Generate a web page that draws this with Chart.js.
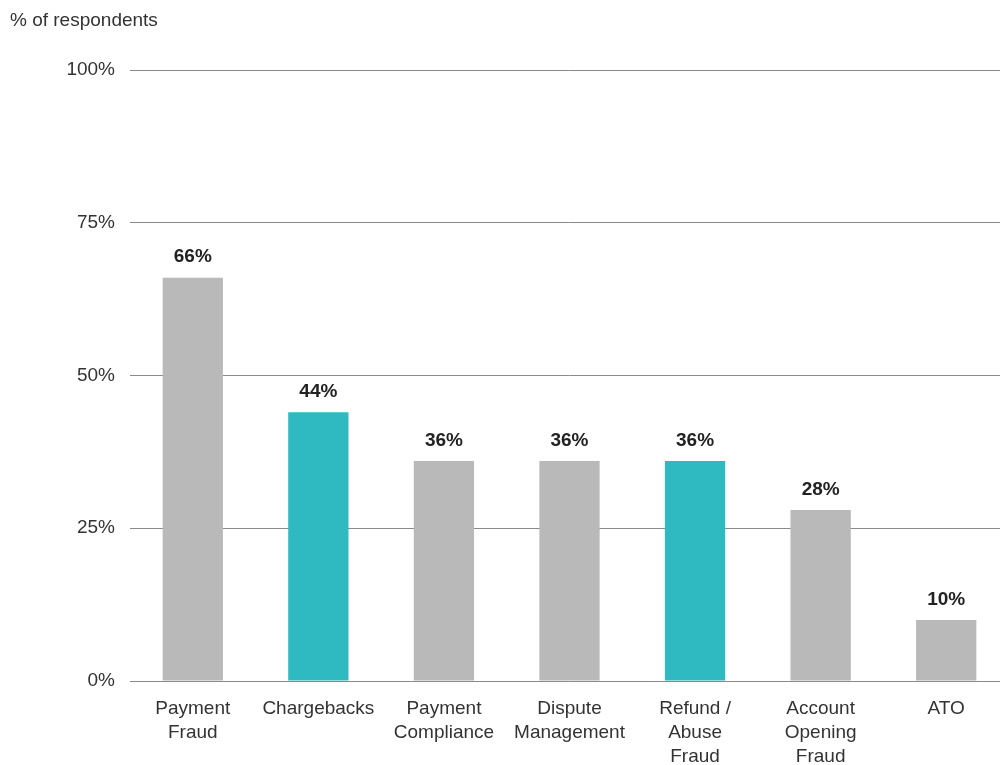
<!DOCTYPE html>
<html>
<head>
<meta charset="utf-8">
<script src="https://cdn.jsdelivr.net/npm/chart.js@4"></script>
<style>
  html, body { margin: 0; padding: 0; background: #fff; overflow: hidden; }
  #wrap { width: 1009px; height: 765px; position: relative; }
</style>
</head>
<body>
<div id="wrap"><canvas id="chart"></canvas></div>
<script>
const categories = [
  ['Payment', 'Fraud'],
  'Chargebacks',
  ['Payment', 'Compliance'],
  ['Dispute', 'Management'],
  ['Refund /', 'Abuse', 'Fraud'],
  ['Account', 'Opening', 'Fraud'],
  'ATO'
];
const shares = [66, 44, 36, 36, 36, 28, 10];
const highlighted = [false, true, false, false, true, false, false];
const yTicks = [0, 25, 50, 75, 100];

const FONT = '"Liberation Sans", Arial, Helvetica, sans-serif';

// headline above the plot
const axisCaption = {
  id: 'axisCaption',
  afterDraw(chart) {
    const ctx = chart.ctx;
    ctx.save();
    ctx.font = '19px ' + FONT;
    ctx.fillStyle = '#333';
    ctx.textAlign = 'left';
    ctx.textBaseline = 'middle';
    ctx.fillText('% of respondents', 10, 21);
    ctx.restore();
  }
};

// bold value on top of each bar
const barValues = {
  id: 'barValues',
  afterDatasetsDraw(chart) {
    const ctx = chart.ctx;
    const meta = chart.getDatasetMeta(0);
    ctx.save();
    ctx.font = 'bold 19px ' + FONT;
    ctx.fillStyle = '#222';
    ctx.textAlign = 'center';
    ctx.textBaseline = 'bottom';
    meta.data.forEach((bar, i) => {
      ctx.fillText(shares[i] + '%', bar.x, bar.y - 11);
    });
    ctx.restore();
  }
};

new Chart(document.getElementById('chart'), {
  type: 'bar',
  data: {
    labels: categories,
    datasets: [{
      data: shares,
      backgroundColor: highlighted.map(h => h ? '#2fb9c1' : '#b9b9b9'),
      borderWidth: 0,
      categoryPercentage: 1,
      barPercentage: 0.48
    }]
  },
  options: {
    responsive: true,
    maintainAspectRatio: false,
    animation: false,
    layout: { padding: { top: 70, right: 0, bottom: 0, left: 0 } },
    plugins: {
      legend: { display: false },
      tooltip: { enabled: false }
    },
    scales: {
      x: {
        grid: { display: false },
        border: { display: false },
        ticks: {
          color: '#333',
          padding: 8,
          maxRotation: 0,
          autoSkip: false,
          font: { family: FONT, size: 19, lineHeight: 24 / 19 }
        },
        afterFit(scale) { scale.height = 84; }
      },
      y: {
        min: 0,
        max: 100,
        afterBuildTicks(scale) { scale.ticks = yTicks.map(v => ({ value: v })); },
        grid: { color: '#8a8a8a', lineWidth: 1, drawTicks: false },
        border: { display: false },
        ticks: {
          color: '#333',
          padding: 15,
          font: { family: FONT, size: 19 },
          callback: v => v + '%'
        },
        afterFit(scale) { scale.width = 130; }
      }
    }
  },
  plugins: [axisCaption, barValues]
});
</script>
</body>
</html>
